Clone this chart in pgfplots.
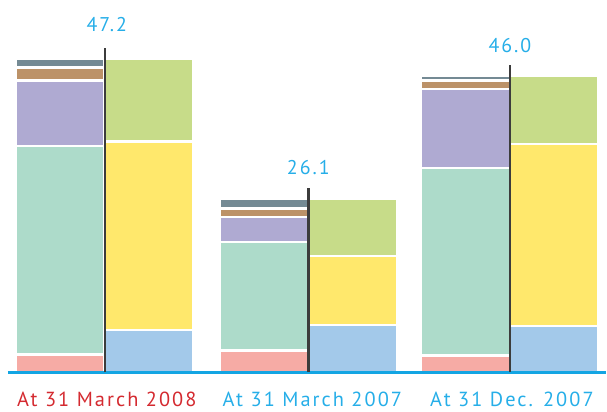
\documentclass[border=0pt]{standalone}
\usepackage{fontspec}
\setmainfont{PT Sans}[LetterSpace=10]
\usepackage{pgfplots}
\usepackage{pgfplotstable}
\pgfplotsset{compat=1.18}

\definecolor{cgray}{HTML}{748A94}
\definecolor{cbrown}{HTML}{BC9268}
\definecolor{cpurple}{HTML}{AFAAD2}
\definecolor{cteal}{HTML}{ADDBCA}
\definecolor{cpink}{HTML}{F6ABA5}
\definecolor{cgreen}{HTML}{C7DC89}
\definecolor{cyellow}{HTML}{FFE86C}
\definecolor{cblue}{HTML}{A3C9EA}
\definecolor{cline}{HTML}{3C3C3C}
\definecolor{ccyan}{HTML}{26AEE8}
\definecolor{cred}{HTML}{D42A30}
\definecolor{cbase}{HTML}{13A5E3}

% left stacks of each group
\pgfplotstableread{
x     pink  teal   purple brown gray
60.5  2.63  31.43  9.92   1.95  1.28
264.5 3.23  16.39  3.76   1.28  1.50
466.5 2.48  28.27  11.95  1.28  0.68
}\lefttab
% right stacks of each group
\pgfplotstableread{
x     blue  yellow green
149.5 6.39  28.35  12.48
353.5 7.14  10.38  8.65
555.5 6.99  27.37  10.30
}\righttab

\pgfplotsset{
  base/.style={x=1bp, y=6.65bp, xmin=8, xmax=607, ymin=0, ymax=56.09,
    clip=false},
  seg/.style={fill=#1, draw=white, line width=2.6bp},
}

\begin{document}
\begin{tikzpicture}
\begin{axis}[base, hide axis, ybar stacked, bar width=89]
\addplot[seg=cpink] table[x=x, y=pink] {\lefttab};
\addplot[seg=cteal] table[x=x, y=teal] {\lefttab};
\addplot[seg=cpurple] table[x=x, y=purple] {\lefttab};
\addplot[seg=cbrown] table[x=x, y=brown] {\lefttab};
\addplot[seg=cgray] table[x=x, y=gray] {\lefttab};
\end{axis}

\begin{axis}[base, hide axis, ybar stacked, bar width=89]
\addplot[seg=cblue] table[x=x, y=blue] {\righttab};
\addplot[seg=cyellow] table[x=x, y=yellow] {\righttab};
\addplot[seg=cgreen] table[x=x, y=green] {\righttab};
\end{axis}

\begin{axis}[base,
  axis x line*=bottom, axis y line=none,
  x axis line style={color=cbase, line width=2.6bp},
  xtick={107,313,513},
  xticklabels={\textcolor{cred}{At 31 March 2008},
    \textcolor{ccyan}{At 31 March 2007},
    \textcolor{ccyan}{At 31 Dec. 2007}},
  xtick style={draw=none},
  xticklabel style={anchor=base, yshift=-34bp,
    font=\fontsize{20.5}{24}\selectfont},
]
\addplot[cline, line width=2.4bp] coordinates {(105,0) (105,48.87)};
\addplot[cline, line width=2.4bp] coordinates {(309,0) (309,27.82)};
\addplot[cline, line width=2.4bp] coordinates {(511,0) (511,46.32)};
\node[anchor=base, text=ccyan, font=\fontsize{20}{24}\selectfont]
  at (axis cs:107,51.28) {47.2};
\node[anchor=base, text=ccyan, font=\fontsize{20}{24}\selectfont]
  at (axis cs:309,29.77) {26.1};
\node[anchor=base, text=ccyan, font=\fontsize{20}{24}\selectfont]
  at (axis cs:511,48.12) {46.0};
\path (axis cs:0,56.09) (axis cs:607,-5.86);
\end{axis}
\end{tikzpicture}
\end{document}
